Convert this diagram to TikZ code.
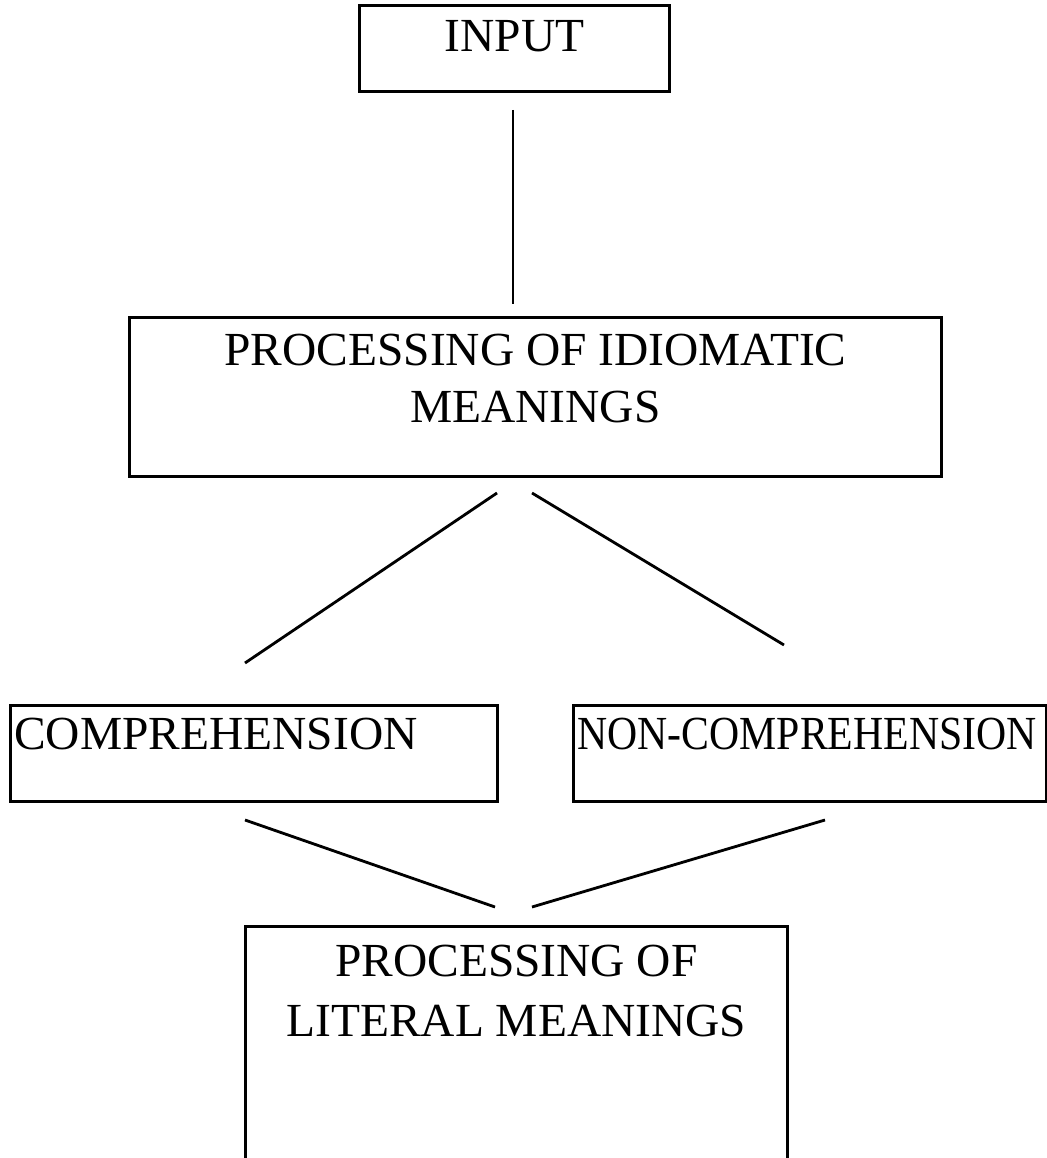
\documentclass[tikz,border=0pt]{standalone}
\usepackage{fontspec}
\setmainfont{Liberation Serif}
\usetikzlibrary{positioning}
\tikzset{
box/.style={ % Sets the properties for each rectangle
draw,
line width=1.6pt,
inner sep=0pt,
anchor=north west},
boxtext/.style={ % Text set inside the rectangles
inner sep=0pt,
align=center,
font=\fontsize{27}{32}\selectfont},
link/.style={ % Plain connecting lines, no tips
line width=1.6pt}}

\begin{document}
\begin{tikzpicture}[x=0.2mm,y=-0.2mm]
\useasboundingbox (0,0) rectangle (1046,1158);
\node[box, minimum width=62mm, minimum height=17.2mm,
  label={[boxtext,anchor=north,yshift=-3.2mm]north:INPUT}] (input) at (358,4) {};
\node[box, minimum width=162.4mm, minimum height=31.8mm,
  label={[boxtext,anchor=north,yshift=-3.6mm]north:PROCESSING OF IDIOMATIC\\MEANINGS}] (idiom) at (128,316) {};
\node[box, minimum width=97.4mm, minimum height=19.2mm,
  label={[boxtext,anchor=north west,xshift=1mm,yshift=-2.8mm]north west:COMPREHENSION}] (comp) at (9,704) {};
\node[box, minimum width=94.6mm, minimum height=19.2mm,
  label={[boxtext,anchor=north west,xshift=1mm,yshift=-2.8mm]north west:\scalebox{0.88}[1]{NON-COMPREHENSION}}] (noncomp) at (572,704) {};
\node[box, minimum width=108.4mm, minimum height=52mm,
  label={[boxtext,anchor=north,yshift=-4mm]north:PROCESSING OF\\[2pt]LITERAL MEANINGS}] (literal) at (244,925) {};
% free ends of the lines
\coordinate (in-low) at (513,110);
\coordinate (id-high) at (513,304);
\coordinate (id-left) at (497,493);
\coordinate (id-right) at (532,493);
\coordinate (co-high) at (245,663);
\coordinate (nc-high) at (784,645);
\coordinate (co-low) at (245,820);
\coordinate (nc-low) at (825,820);
\coordinate (li-left) at (495,907);
\coordinate (li-right) at (532,907);
\draw[link] (in-low) -- (id-high);
\draw[link] (id-left) -- (co-high);
\draw[link] (id-right) -- (nc-high);
\draw[link] (co-low) -- (li-left);
\draw[link] (nc-low) -- (li-right);
\end{tikzpicture}
\end{document}
